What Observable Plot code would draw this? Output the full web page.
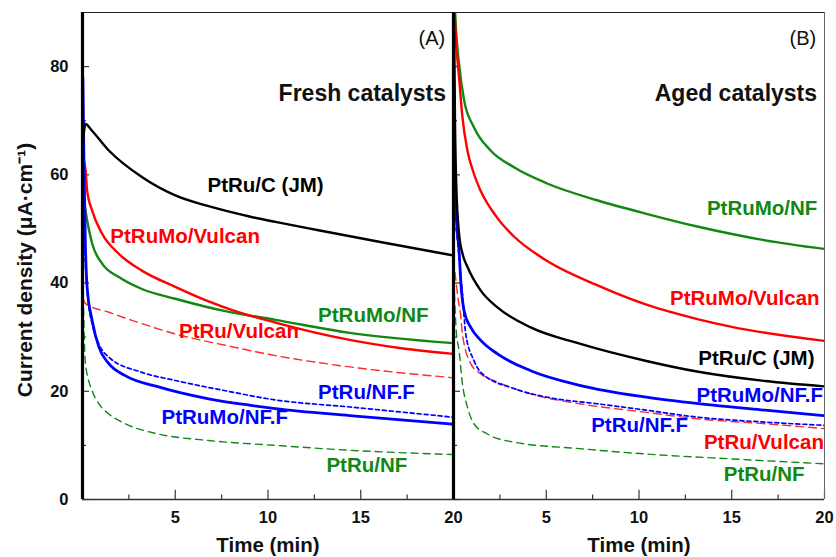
<!DOCTYPE html>
<html><head><meta charset="utf-8">
<script src="https://cdn.jsdelivr.net/npm/d3@7"></script>
<script src="https://cdn.jsdelivr.net/npm/@observablehq/plot@0.6"></script>
<style>body{margin:0;background:#fff} svg{font-family:"Liberation Sans",Arial,sans-serif}</style>
</head><body><div id="chart"></div>
<script>
// ---- data: [time (min), current density (µA·cm-1)] ----
// Panel A: fresh catalysts
const fresh_PtRuC      = [[0.03,66],[0.16,69.4],[0.5,68.2],[1.42,64.5],[3.2,59.6],[5,56.2],[6.8,54.2],[9,52.3],[10.4,51.3],[12.65,49.8],[16.2,47.5],[20,45.1]];
const fresh_PtRuMoVulc = [[0.05,63],[0.16,61],[0.25,57.1],[0.52,53.4],[1.06,49.1],[1.96,45.4],[3.2,42.3],[5,39.3],[6.8,36.6],[8.07,35.0],[10.4,32.7],[14.4,29.5],[17.1,28.0],[20,26.9]];
const fresh_PtRuMoNF   = [[0.05,56],[0.16,53.4],[0.52,47.3],[1.06,43.6],[1.96,41.1],[3.2,38.9],[5,37.1],[7.7,34.8],[10.4,33.2],[14.4,30.8],[20,28.9]];
const fresh_PtRuVulc   = [[0.05,37],[0.16,36.2],[1.42,34.6],[3.2,32.5],[5,30.6],[7.7,28.5],[10.4,26.6],[14.4,24.5],[20,22.5]];
const fresh_PtRuMoNFF  = [[0.02,78],[0.08,62],[0.15,48],[0.25,39.2],[0.52,33.1],[0.88,28.2],[1.42,25.1],[2.3,22.9],[4.1,20.8],[6.8,18.6],[9.06,17.4],[10.4,16.8],[14.4,15.5],[20,13.9]];
const fresh_PtRuNFF    = [[0.05,55],[0.15,44],[0.3,37],[0.55,32],[0.9,28.6],[1.42,26.3],[3.2,23.5],[5,22.0],[7.7,20.1],[10.4,18.4],[14.4,17.1],[20,15.2]];
const fresh_PtRuNF     = [[0.02,42],[0.08,32],[0.16,25.1],[0.52,20.1],[0.88,17.7],[1.42,15.8],[2.3,14.0],[4.1,12.1],[6.8,10.9],[10.4,10.0],[14.4,9.1],[20,8.3]];
// Panel B: aged catalysts
const aged_PtRuMoNF    = [[0.03,95],[0.1,89],[0.3,80.5],[0.57,73.8],[1.1,68.8],[2.0,64.5],[3.26,61.4],[5.05,58.4],[7.74,55.3],[10.4,52.8],[13.2,50.4],[16.8,47.9],[20,46.3]];
const aged_PtRuMoVulc  = [[0.03,92],[0.15,84],[0.3,78],[0.48,70.7],[0.75,64.5],[1.1,60.2],[1.47,57.0],[2.37,52.0],[3.26,48.6],[4.9,44.4],[7.74,39.6],[10.4,36.0],[13.2,33.3],[15,31.9],[20,29.3]];
const aged_PtRuC       = [[0.02,92],[0.08,70],[0.15,58],[0.3,49.1],[0.48,45.5],[0.75,43],[1.47,38.6],[2.37,35.5],[4.16,31.8],[6.8,28.8],[10.4,25.6],[13.2,23.6],[16.8,21.9],[20,20.9]];
const aged_PtRuMoNFF   = [[0.03,62],[0.15,52],[0.3,46],[0.4,39.9],[0.57,34.9],[0.93,31.8],[1.47,29.4],[2.37,26.9],[4.16,23.8],[6.8,21.1],[10.4,18.9],[13.2,17.7],[16.8,16.5],[20,15.5]];
const aged_PtRuVulc    = [[0.08,42],[0.25,37],[0.4,33.7],[0.48,30.6],[0.93,25.1],[1.47,23.2],[2.37,21.7],[4.16,19.5],[6.8,17.7],[10.4,16.1],[13.2,14.9],[16.8,14.0],[20,13.1]];
const aged_PtRuNFF     = [[0.15,50],[0.35,43],[0.48,38],[0.66,30.6],[1.1,25.7],[1.47,23.5],[3.26,20.5],[5.05,18.9],[7.74,17.7],[10.4,16.5],[13.2,15.2],[16.8,14.3],[20,13.7]];
const aged_PtRuNF      = [[0.05,38],[0.15,31],[0.3,27.5],[0.48,21.4],[0.75,17.1],[1.1,14.0],[1.83,12.1],[3.26,10.6],[6.8,9.4],[10.4,8.4],[15,7.5],[20,6.6]];

// axis ticks
const xTicks = [5, 10, 15, 20];
const xMinor = [2.5, 7.5, 12.5, 17.5];
const yTicks = [0, 20, 40, 60, 80];
const yMinor = [10, 30, 50, 70];
const panels = ["A", "B"];
const panelTag = ["(A)", "(B)"];
const panelTitle = ["Fresh catalysts", "Aged catalysts"];

// label anchors (data coordinates)
const labelNamesA = ["PtRu/C (JM)", "PtRuMo/Vulcan", "PtRuMo/NF", "PtRu/Vulcan", "PtRu/NF.F", "PtRuMo/NF.F", "PtRu/NF"];
const labelTA = [6.74, 1.5, 12.7, 5.2, 12.7, 4.26, 13.15];
const labelVA = [58.0, 48.6, 34.0, 31.1, 19.8, 15.2, 6.3];
const labelNamesB = ["PtRuMo/NF", "PtRuMo/Vulcan", "PtRu/C (JM)", "PtRuMo/NF.F", "PtRu/NF.F", "PtRu/Vulcan", "PtRu/NF"];
const labelTB = [13.66, 11.67, 13.2, 13.1, 7.42, 13.5, 14.57];
const labelVB = [53.8, 37.1, 26.1, 19.2, 13.7, 10.6, 4.6];

// ---- styles ----
const style = {
  "PtRu/C (JM)":  {stroke: "#000000", width: 2.4, dash: null, text: "#000000"},
  "PtRuMo/Vulcan":{stroke: "#ff0000", width: 2.4, dash: null, text: "#ff0000"},
  "PtRuMo/NF":    {stroke: "#118811", width: 2.4, dash: null, text: "#118811"},
  "PtRuMo/NF.F":  {stroke: "#0000ff", width: 2.8, dash: null, text: "#0000ff"},
  "PtRu/Vulcan":  {stroke: "#ff2a2a", width: 1.4, dash: "8,5", text: "#ff0000"},
  "PtRu/NF.F":    {stroke: "#0000ff", width: 1.7, dash: "4,3", text: "#0000ff"},
  "PtRu/NF":      {stroke: "#118811", width: 1.4, dash: "7,5", text: "#118811"}
};

const series = [
  ["A", "PtRu/NF", fresh_PtRuNF], ["A", "PtRu/Vulcan", fresh_PtRuVulc], ["A", "PtRu/NF.F", fresh_PtRuNFF],
  ["A", "PtRuMo/NF", fresh_PtRuMoNF], ["A", "PtRuMo/Vulcan", fresh_PtRuMoVulc], ["A", "PtRuMo/NF.F", fresh_PtRuMoNFF], ["A", "PtRu/C (JM)", fresh_PtRuC],
  ["B", "PtRu/NF", aged_PtRuNF], ["B", "PtRu/Vulcan", aged_PtRuVulc], ["B", "PtRu/NF.F", aged_PtRuNFF],
  ["B", "PtRuMo/NF", aged_PtRuMoNF], ["B", "PtRuMo/Vulcan", aged_PtRuMoVulc], ["B", "PtRuMo/NF.F", aged_PtRuMoNFF], ["B", "PtRu/C (JM)", aged_PtRuC]
];

const lineMarks = series.map(([p, name, pts]) => Plot.line(pts, {
  x: d => d[0], y: d => d[1], fx: () => p,
  stroke: style[name].stroke, strokeWidth: style[name].width,
  strokeDasharray: style[name].dash, curve: "monotone-x", clip: true
}));

const labelRows = [
  ...labelNamesA.map((n, i) => ({p: "A", n, t: labelTA[i], v: labelVA[i]})),
  ...labelNamesB.map((n, i) => ({p: "B", n, t: labelTB[i], v: labelVB[i]}))
];
const panelRows = panels.map((p, i) => ({p, tag: panelTag[i], title: panelTitle[i]}));

const chart = Plot.plot({
  width: 836, height: 557,
  marginLeft: 82, marginRight: 12, marginTop: 12, marginBottom: 58,
  style: {fontFamily: '"Liberation Sans", Arial, sans-serif', fontWeight: "bold", background: "#fff"},
  fx: {domain: panels, padding: 0, axis: null, label: null},
  x: {domain: [0, 20]},
  y: {domain: [0, 90]},
  marks: [
    // inward ticks
    Plot.ruleX(xTicks, {x: d => d, y1: 0, y2: 1.7, stroke: "#333", strokeWidth: 1.2}),
    Plot.ruleX(xMinor, {x: d => d, y1: 0, y2: 0.85, stroke: "#333", strokeWidth: 1.2}),
    Plot.ruleY(yTicks, {y: d => d, x1: 0, x2: 0.38, stroke: "#333", strokeWidth: 1.2}),
    Plot.ruleY(yMinor, {y: d => d, x1: 0, x2: 0.22, stroke: "#333", strokeWidth: 1.2}),
    // frame
    Plot.ruleY([90], {stroke: "#222", strokeWidth: 1.2}),
    Plot.ruleX([20], {stroke: "#666", strokeWidth: 1}),
    Plot.ruleY([0], {stroke: "#333", strokeWidth: 1.6}),
    ...lineMarks,
    Plot.ruleX([0], {stroke: "#000", strokeWidth: 3.2}),
    // axes
    Plot.axisX({ticks: xTicks, tickSize: 0, tickPadding: 12, fontSize: 16.5, fontWeight: "bold", label: null, fill: "#111"}),
    Plot.axisY({ticks: yTicks, tickSize: 0, tickPadding: 14, fontSize: 16.5, fontWeight: "bold", label: null, fill: "#111"}),
    Plot.text(["Time (min)"], {frameAnchor: "bottom", lineAnchor: "middle", dy: 46, fontSize: 20.5, fontWeight: "bold", fill: "#111"}),
    Plot.text(panelRows.slice(0, 1), {fx: "p", text: () => "Current density (\u03BCA\u00B7cm\u207B\u00B9)", frameAnchor: "left", textAnchor: "middle", lineAnchor: "middle", rotate: -90, dx: -57, dy: 14, fontSize: 21, fontWeight: "bold", fill: "#111"}),
    // panel tags and titles
    Plot.text(panelRows, {fx: "p", text: "tag", x: () => 19.55, y: () => 85.2, textAnchor: "end", fontSize: 20, fontWeight: "normal", fill: "#111"}),
    Plot.text(panelRows, {fx: "p", text: "title", x: () => 19.6, y: () => 75.0, textAnchor: "end", fontSize: 23, fontWeight: "bold", fill: "#111"}),
    // curve labels
    Plot.text(labelRows, {fx: "p", x: "t", y: "v", text: "n", fill: d => style[d.n].text, textAnchor: "start", fontSize: 20.5, fontWeight: "bold"})
  ]
});
document.getElementById("chart").appendChild(chart);
</script></body></html>
